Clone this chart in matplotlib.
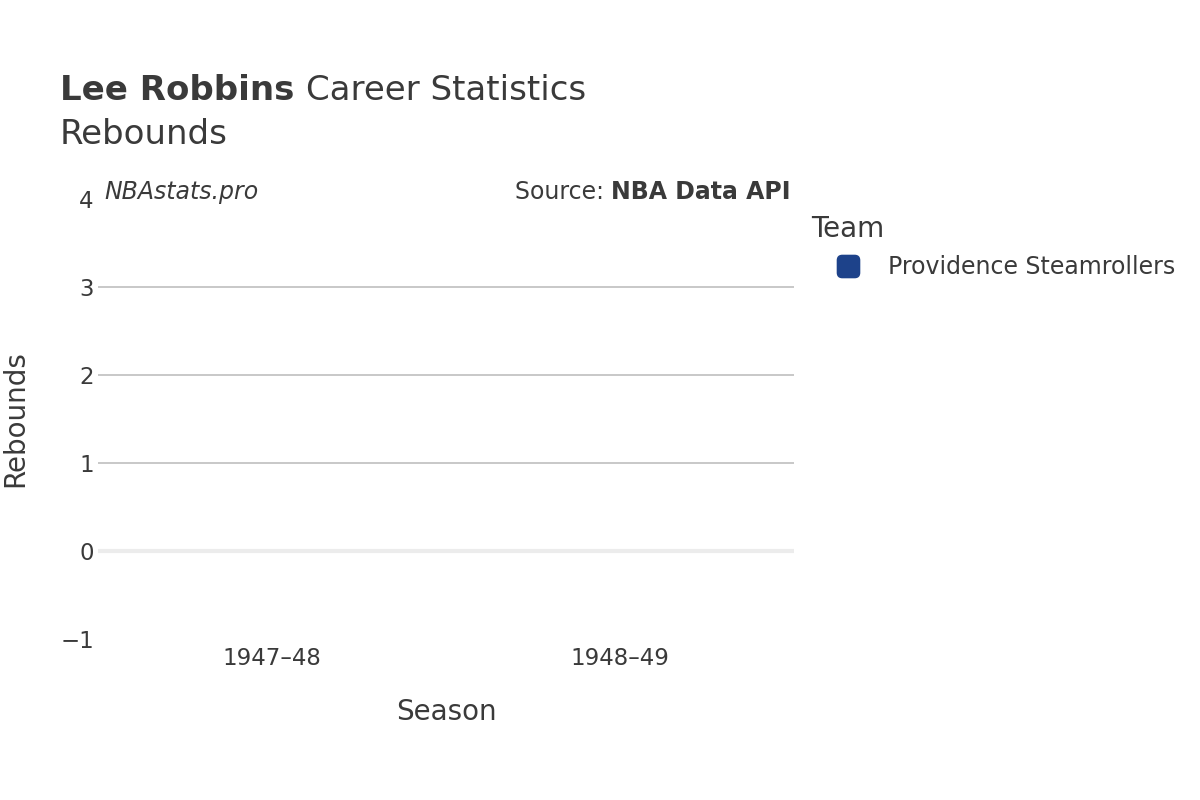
import matplotlib
matplotlib.use("Agg")
import matplotlib.pyplot as plt
from matplotlib.lines import Line2D
from matplotlib.patches import FancyBboxPatch
from matplotlib.transforms import offset_copy

# data
seasons = ["1947\u201348", "1948\u201349"]
rebounds = [0, 0]
team = "Providence Steamrollers"
team_color = "#1d428a"

text_color = "#3a3a3a"
plt.rcParams['font.family'] = ['DejaVu Sans']

fig = plt.figure(figsize=(12, 8), dpi=100)
ax = fig.add_axes([0.0817, 0.2013, 0.58, 0.55])

x = range(len(seasons))
ax.bar(x, rebounds, width=0.8, color=team_color)

ax.set_xlim(-0.5, len(seasons) - 0.5)
ax.set_ylim(-1, 4)
ax.set_yticks([-1, 0, 1, 2, 3, 4])
ax.set_yticklabels(["\u22121", "0", "1", "2", "3", "4"])
ax.set_xticks(list(x))
ax.set_xticklabels(seasons)

# grid lines (plotly style)
for yv in [1, 2, 3]:
    ax.axhline(yv, color="#c4c4c4", lw=1.3, zorder=0)
ax.axhline(0, color="#ececec", lw=3, zorder=0)

for s in ax.spines.values():
    s.set_visible(False)
ax.tick_params(axis="both", length=0, labelsize=16.5, colors=text_color)
ax.tick_params(axis="x", pad=6)
ax.tick_params(axis="y", pad=3)

ax.set_xlabel("Season", fontsize=20, color=text_color, labelpad=20)
ax.set_ylabel("Rebounds", fontsize=20, color=text_color, labelpad=22)

# titles
t1 = fig.text(0.05, 0.875, "Lee Robbins ", fontsize=24.5, fontweight="bold",
              color=text_color, va="baseline")
fig.text(0.05, 0.82, "Rebounds", fontsize=24.5, color=text_color, va="baseline")

# annotations
ax.text(0.009, 1.016, "NBAstats.pro", transform=ax.transAxes, fontsize=17,
        style="italic", color=text_color, va="center", ha="left")
src = ax.text(0.995, 1.016, "NBA Data API", transform=ax.transAxes, fontsize=17,
              fontweight="bold", color=text_color, va="center", ha="right")

fig.canvas.draw()
r = fig.canvas.get_renderer()
w1 = t1.get_window_extent(r).width
fig.text(0.05, 0.875, "Career Statistics", fontsize=24.5, color=text_color,
         va="baseline",
         transform=offset_copy(fig.transFigure, fig=fig, x=w1, y=0, units="dots"))
ws = src.get_window_extent(r).width
ax.text(0.995, 1.016, "Source: ", transform=offset_copy(ax.transAxes, fig=fig, x=-ws, y=0, units="dots"),
        fontsize=17, color=text_color, va="center", ha="right")

# legend with rounded square marker
rounded = FancyBboxPatch((-0.5, -0.5), 1, 1,
                         boxstyle="round,pad=0,rounding_size=0.22").get_path()
handle = Line2D([], [], marker=rounded, linestyle="none", markersize=16,
                markerfacecolor=team_color, markeredgecolor=team_color)
leg = fig.legend([handle], [team], title="Team", loc="upper left",
                 bbox_to_anchor=(0.6645, 0.749), frameon=False, fontsize=17,
                 title_fontsize=20, handlelength=3.1, handletextpad=0.13,
                 alignment="left", borderaxespad=0.2)
for t in leg.get_texts():
    t.set_color(text_color)
leg.get_title().set_color(text_color)

fig.savefig("out.png", dpi=100)
